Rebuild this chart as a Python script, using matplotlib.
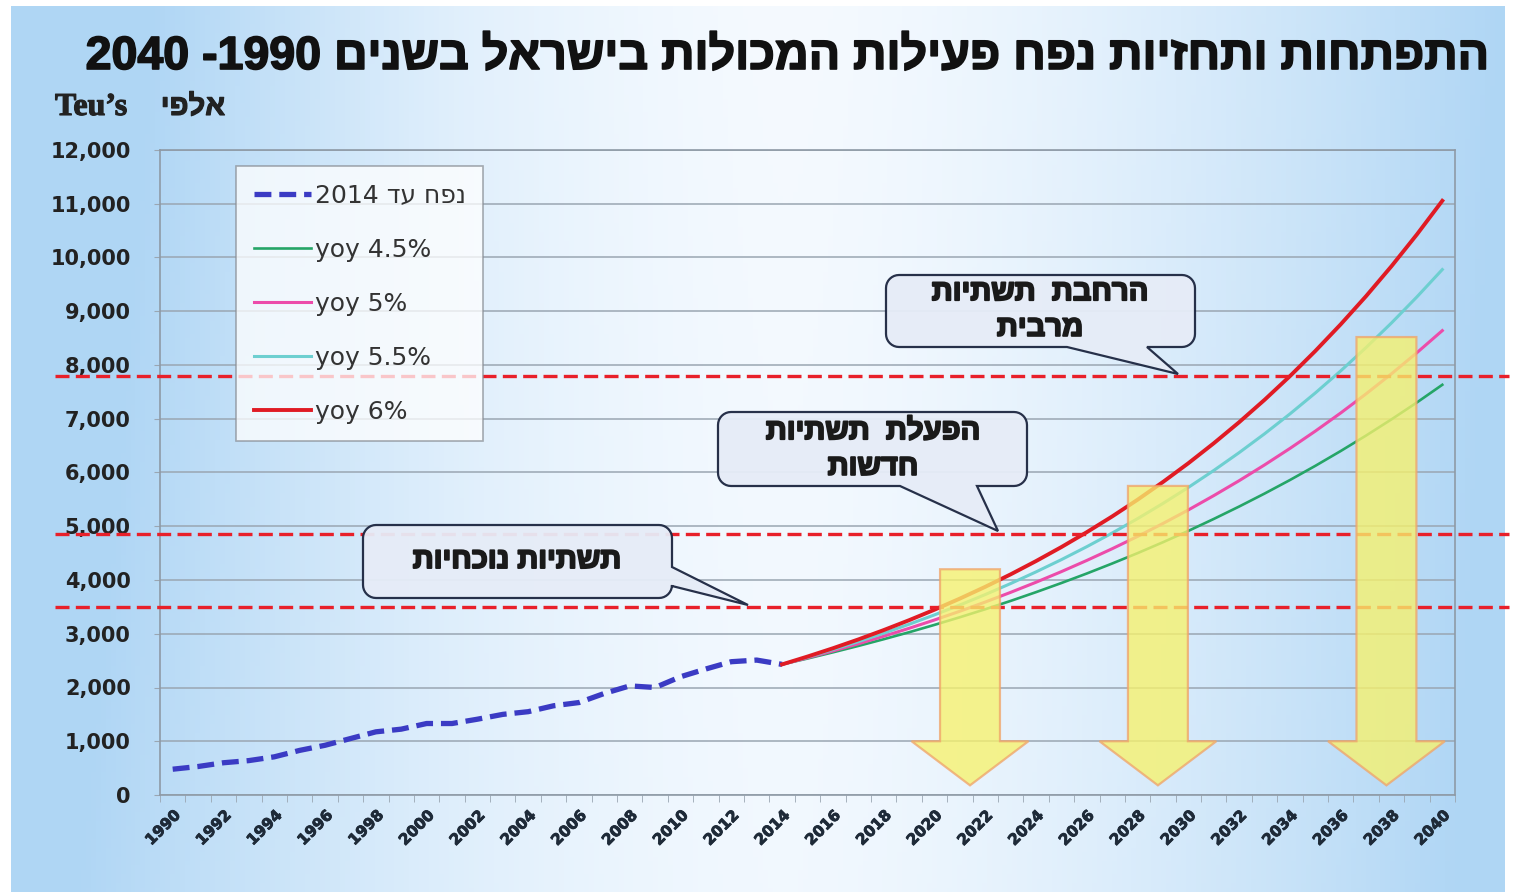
import numpy as np
import matplotlib
matplotlib.use("Agg")
import matplotlib.pyplot as plt
from matplotlib.patches import Polygon
import matplotlib.patheffects as pe

# ---------------- data ----------------
hist_years = list(range(1990, 2015))
hist_teu = [480, 530, 600, 640, 710, 830, 925, 1050, 1175, 1225, 1330, 1330, 1410,
            1500, 1550, 1660, 1720, 1890, 2030, 2000, 2200, 2345, 2480, 2510, 2430]

proj_years = list(range(2014, 2041))
yoy_45 = [2430, 2539, 2654, 2773, 2898, 3028, 3165, 3307, 3456, 3611, 3774, 3944, 4121, 4307,
          4500, 4703, 4914, 5136, 5367, 5608, 5860, 6124, 6400, 6688, 6989, 7303, 7632]
yoy_50 = [2430, 2552, 2679, 2813, 2954, 3101, 3256, 3419, 3590, 3770, 3958, 4156, 4364, 4582,
          4811, 5052, 5304, 5570, 5848, 6141, 6448, 6770, 7108, 7464, 7837, 8229, 8640]
yoy_55 = [2430, 2564, 2705, 2853, 3010, 3176, 3351, 3535, 3729, 3934, 4151, 4379, 4620, 4874,
          5142, 5425, 5723, 6038, 6370, 6720, 7090, 7480, 7891, 8326, 8783, 9267, 9776]
yoy_60 = [2430, 2576, 2730, 2894, 3068, 3252, 3447, 3654, 3873, 4105, 4352, 4613, 4890, 5183,
          5494, 5824, 6173, 6544, 6936, 7352, 7793, 8261, 8757, 9282, 9839, 10429, 11055]

capacity_levels = [3500, 4850, 7800]
arrow_years = [2021.4, 2028.8, 2037.8]
arrow_tops = [4200, 5750, 8520]

tick_years = list(range(1990, 2041, 2))
y_ticks = list(range(0, 12001, 1000))


def heb(s):
    """visual (left-to-right) order for a pure Hebrew run"""
    return s[::-1]


title_txt = "2040 -1990 " + heb("התפתחות ותחזיות נפח פעילות המכולות בישראל בשנים")
ylab_latin = "Teu’s"
ylab_heb = heb("אלפי")
legend_labels = ["2014 " + heb("נפח עד"), "yoy 4.5%", "yoy 5%", "yoy 5.5%", "yoy 6%"]
callout_texts = [heb("הרחבת  תשתיות") + "\n" + heb("מרבית"),
                 heb("הפעלת  תשתיות") + "\n" + heb("חדשות"),
                 heb("תשתיות נוכחיות")]

# ---------------- figure ----------------
W, H = 1515, 892
fig = plt.figure(figsize=(W / 100, H / 100), dpi=100)
fig.patch.set_facecolor("white")

# slide background gradient
bg = fig.add_axes([11 / W, 0, (1505 - 11) / W, 1 - 6 / H], zorder=-10)
gx = np.linspace(0, 1, 300)
gy = np.linspace(0, 1, 200)
X, Y = np.meshgrid(gx, gy)
f = np.clip(np.abs(X - 0.52) * 2.1, 0, 1) ** 1.6
f = np.clip(f + 0.25 * (1 - Y) * (X < 0.3) * (0.3 - X) / 0.3 + 0.1 * Y * X, 0, 1)
blue = np.array([0.69, 0.84, 0.96])
white = np.array([0.96, 0.98, 1.0])
img = white[None, None, :] * (1 - f[..., None]) + blue[None, None, :] * f[..., None]
bg.imshow(img, aspect="auto", extent=(0, 1, 0, 1), origin="upper")
bg.set_axis_off()

# main axes
x0px, x1px, ytop, ybot = 160, 1455, 150, 795
ax = fig.add_axes([x0px / W, 1 - ybot / H, (x1px - x0px) / W, (ybot - ytop) / H], zorder=1)
ax.patch.set_alpha(0)
ax.set_xlim(1989.5, 2040.5)
ax.set_ylim(0, 12000)

grid_c = "#9AA6B2"
for s in ax.spines.values():
    s.set_color("#8E9AA6")
    s.set_linewidth(1.2)
ax.set_yticks(y_ticks)
ax.set_yticklabels([f"{v:,}" for v in y_ticks], fontsize=15, fontweight="bold",
                   color="#222222", family="DejaVu Sans")
ax.yaxis.grid(True, color=grid_c, linewidth=1.1)
ax.tick_params(axis="y", length=4, color=grid_c, pad=17)
ax.set_xticks(tick_years)
ax.set_xticklabels([str(y) for y in tick_years], rotation=45, ha="right",
                   rotation_mode="anchor", fontsize=11, fontweight="bold",
                   color="#1E2A38", family="DejaVu Sans")
for t in ax.get_xticklabels():
    t.set_path_effects([pe.withStroke(linewidth=0.6, foreground="#1E2A38")])
ax.set_xticks(np.arange(1989.5, 2041, 1.0), minor=True)
ax.tick_params(axis="x", which="major", length=0, pad=9)
ax.tick_params(axis="x", which="minor", length=5, color=grid_c)
ax.set_axisbelow(True)

# series
lh, = ax.plot(hist_years, hist_teu, color="#3B3BC4", lw=3.8, dashes=(3.2, 1.5),
              solid_capstyle="butt", dash_capstyle="butt", zorder=3, label=legend_labels[0])
l45, = ax.plot(proj_years, yoy_45, color="#25A567", lw=1.9, zorder=3, label=legend_labels[1])
l50, = ax.plot(proj_years, yoy_50, color="#EC4CAA", lw=2.2, zorder=3, label=legend_labels[2])
l55, = ax.plot(proj_years, yoy_55, color="#6DCFD0", lw=2.2, zorder=3, label=legend_labels[3])
l60, = ax.plot(proj_years, yoy_60, color="#E01B24", lw=2.8, zorder=3.1, label=legend_labels[4])

# capacity levels (dashed red, extending past the plot area)
for lev in capacity_levels:
    ax.axhline(lev, xmin=-0.081, xmax=1.042, color="#E8202A", lw=2.4,
               dashes=(4.2, 1.9), clip_on=False, zorder=3.5)

# yellow arrows
shaft_hw, head_hw, head_top, tip_y = 1.18, 2.3, 1000, 180
for xc, top in zip(arrow_years, arrow_tops):
    pts = [(xc - shaft_hw, top), (xc + shaft_hw, top), (xc + shaft_hw, head_top),
           (xc + head_hw, head_top), (xc, tip_y), (xc - head_hw, head_top),
           (xc - shaft_hw, head_top)]
    ax.add_patch(Polygon(pts, closed=True, facecolor="#F7F26C", edgecolor="#F0A56A",
                         lw=1.6, alpha=0.78, zorder=4))

leg = ax.legend(handles=[lh, l45, l50, l55, l60], loc="upper left",
                bbox_to_anchor=(236 / W, 1 - 166 / H), bbox_transform=fig.transFigure,
                borderaxespad=0, frameon=True, fancybox=False,
                handlelength=2.3, handletextpad=0.15, labelspacing=1.2,
                borderpad=0.7, prop={"family": ["DejaVu Sans"], "size": 18})
leg.get_frame().set_facecolor("white")
leg.get_frame().set_alpha(0.75)
leg.get_frame().set_edgecolor("#8A8F96")
leg.get_frame().set_linewidth(1.2)
leg.set_zorder(6)
for t in leg.get_texts():
    t.set_color("#333333")

# ---------------- overlay (pixel coords) ----------------
ov = fig.add_axes([0, 0, 1, 1], zorder=2)
ov.set_xlim(0, W)
ov.set_ylim(H, 0)
ov.set_axis_off()

ov.text(1490, 69, title_txt, ha="right", va="baseline", fontsize=33.5, fontweight="bold",
        color="#111111", family=["Liberation Sans", "DejaVu Sans"],
        path_effects=[pe.withStroke(linewidth=1.2, foreground="#111111")])
ov.text(55, 115, ylab_latin, ha="left", va="baseline", fontsize=23, fontweight="bold",
        color="#222222", family=["Liberation Serif", "DejaVu Serif"],
        path_effects=[pe.withStroke(linewidth=0.8, foreground="#222222")])
ov.text(225, 115, ylab_heb, ha="right", va="baseline", fontsize=21, fontweight="bold",
        color="#222222", family=["Liberation Sans", "DejaVu Sans"],
        path_effects=[pe.withStroke(linewidth=0.8, foreground="#222222")])


def callout(x0, y0, x1, y1, ptr, tip, r=13):
    def arc(cx, cy, a0, a1):
        t = np.radians(np.linspace(a0, a1, 9))
        return [(cx + r * np.cos(a), cy + r * np.sin(a)) for a in t]
    pts = []
    pts += arc(x0 + r, y0 + r, 180, 270)
    pts += arc(x1 - r, y0 + r, 270, 360)
    if ptr[0] == "right":
        pts += [(x1, ptr[1]), tip, (x1, ptr[2])]
    pts += arc(x1 - r, y1 - r, 0, 90)
    if ptr[0] == "bottom":
        pts += [(ptr[2], y1), tip, (ptr[1], y1)]
    pts += arc(x0 + r, y1 - r, 90, 180)
    ov.add_patch(Polygon(pts, closed=True, facecolor="#E6ECF7", edgecolor="#1C2640",
                         lw=1.6, alpha=0.95, zorder=5))


callout(886, 275, 1195, 347, ("bottom", 1067, 1147), (1178, 374))
callout(718, 412, 1027, 486, ("bottom", 900, 977), (998, 531))
callout(363, 525, 672, 598, ("right", 567, 586), (748, 605))

tkw = dict(ha="center", va="center", fontsize=21, fontweight="bold", color="#1A1A1A",
           family=["Liberation Sans", "DejaVu Sans"], linespacing=1.35, zorder=6,
           path_effects=[pe.withStroke(linewidth=1.4, foreground="#1A1A1A")])
ov.text(1040, 310, callout_texts[0], **tkw)
ov.text(873, 449, callout_texts[1], **tkw)
ov.text(517, 560, callout_texts[2], **tkw)

fig.savefig("out.png", dpi=100)
